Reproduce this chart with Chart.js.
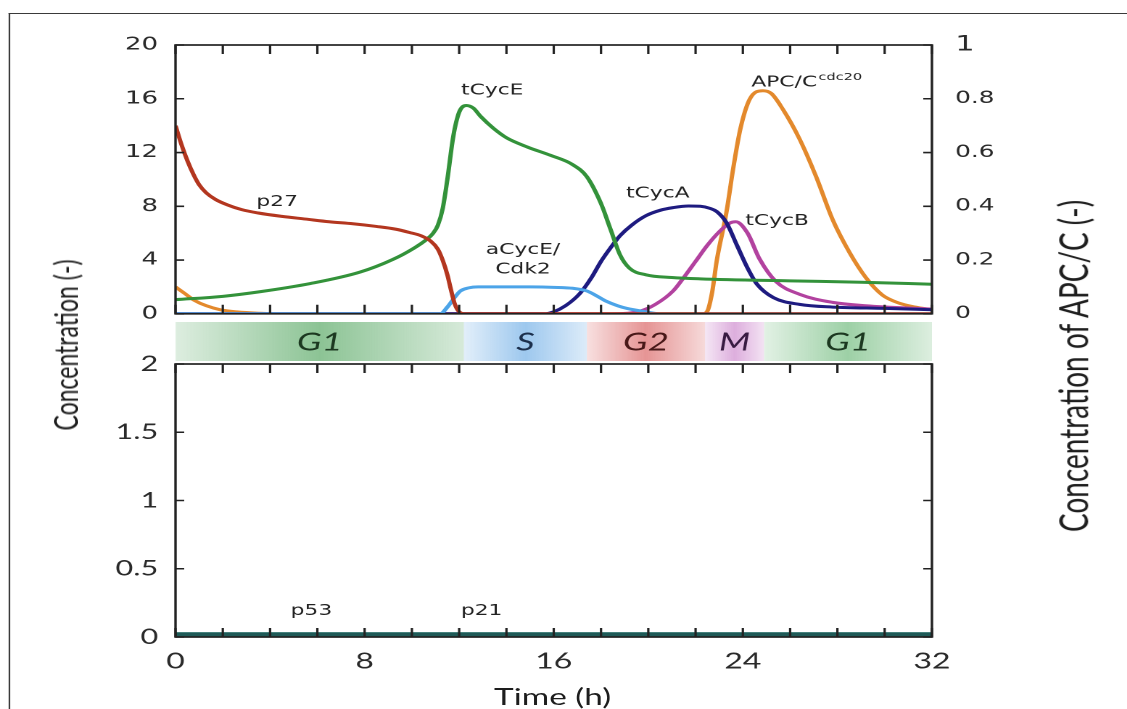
<!DOCTYPE html>
<html>
<head>
<meta charset="utf-8">
<script src="https://cdn.jsdelivr.net/npm/chart.js@4.4.1/dist/chart.umd.min.js"></script>
<style>
  html, body { margin: 0; padding: 0; background: #fff; overflow: hidden; }
  /* the source figure is stretched horizontally, so the whole stage is drawn narrow and widened */
  #stage { position: absolute; left: 0; top: 0; width: 777px; height: 709px;
           transform: scaleX(1.4505); transform-origin: 0 0; }
  #frame { position: absolute; left: 5.5px; top: 13px; width: 780px; height: 700px;
           border-left: 1.6px solid #3a3a3a; border-top: 1.6px solid #3a3a3a; }
  canvas { position: absolute; left: 0; }
  .title { position: absolute; font-family: Lato, sans-serif; color: #1d1d1d; white-space: nowrap; }
  .rot { transform: translate(-50%, -50%) rotate(-90deg); }
</style>
</head>
<body>
<div id="stage">
  <div id="frame"></div>
  <canvas id="top" width="777" height="340" style="top:0"></canvas>
  <canvas id="bottom" width="777" height="389" style="top:320px"></canvas>
  <div class="title rot" style="left:44.5px; top:345px; font-size:23px;">Concentration (-)</div>
  <div class="title rot" style="left:739px; top:366px; font-size:28px;">Concentration of APC/C (-)</div>
  <div class="title" style="left:381px; top:696px; font-size:23px; transform: translate(-50%, -50%);">Time (h)</div>
</div>
<script>
// time (h) / value pairs
const p27 = [[0,14],[0.25,12.6],[0.5,11.4],[0.75,10.4],[1,9.6],[1.3,9.0],[1.7,8.5],[2.2,8.1],[2.8,7.75],
  [3.5,7.5],[4.5,7.25],[5.5,7.05],[6.5,6.85],[7.5,6.7],[8.5,6.5],[9.3,6.3],[9.9,6.05],[10.4,5.8],
  [10.8,5.4],[11.1,4.8],[11.3,4.0],[11.5,2.9],[11.65,1.8],[11.8,0.8],[11.95,0.25],[12.2,0],[32,0]];
const tCycE = [[0,1.05],[2,1.3],[3.6,1.65],[5.7,2.25],[7.8,3.1],[9.2,4.05],[10.1,4.9],[10.6,5.5],
  [10.9,6.0],[11.1,6.6],[11.3,7.8],[11.5,10.0],[11.75,13.2],[12.0,15.0],[12.3,15.5],[12.6,15.3],
  [12.9,14.7],[13.45,13.8],[14,13.1],[14.9,12.4],[15.85,11.8],[16.8,11.1],[17.4,10.2],[18,8.2],
  [18.4,6.3],[18.8,4.4],[19.2,3.4],[19.9,2.9],[21,2.7],[22.2,2.6],[26,2.45],[29,2.35],[32,2.2]];
const aCycE = [[0,0],[11.2,0],[11.5,0.5],[11.8,1.2],[12.05,1.7],[12.4,1.93],[12.8,2.0],[15,2.0],[16,1.97],
  [16.8,1.9],[17.4,1.7],[17.8,1.35],[18.2,0.95],[18.7,0.6],[19.1,0.4],[19.9,0.15],[20.5,0],[32,0]];
const tCycA = [[0,0],[15.6,0],[16,0.15],[16.5,0.6],[17.1,1.5],[17.6,2.7],[18,3.9],[18.4,4.9],[18.8,5.8],
  [19.3,6.6],[19.9,7.3],[20.5,7.7],[21.05,7.9],[21.7,8.02],[22.2,8.0],[22.6,7.85],[22.9,7.6],[23.3,6.8],
  [23.75,5.1],[24.2,3.4],[24.6,2.2],[25.3,1.2],[26.4,0.7],[27.8,0.5],[30,0.4],[32,0.3]];
const tCycB = [[0,0],[18.5,0],[19.65,0.2],[20.3,0.7],[21.05,1.7],[21.5,2.7],[22,3.9],[22.5,5.1],[23,6.1],
  [23.45,6.75],[23.7,6.85],[24.2,6.0],[24.7,4.1],[25.4,2.4],[26.4,1.45],[27.8,0.85],[29.2,0.6],[32,0.35]];
// right axis (0..1)
const apcC = [[0,0.1],[0.4,0.075],[0.8,0.05],[1.3,0.03],[1.9,0.015],[2.6,0.007],[3.6,0.002],[4.5,0],
  [22.3,0],[22.5,0.01],[22.7,0.08],[22.9,0.2],[23.3,0.375],[23.6,0.545],[23.9,0.69],[24.3,0.8],
  [24.85,0.83],[25.2,0.82],[25.7,0.76],[26.4,0.65],[27.1,0.51],[27.8,0.35],[28.5,0.23],[29.2,0.135],
  [29.9,0.07],[30.6,0.04],[31.3,0.025],[32,0.015]];
// lower panel
const p53 = [[0,0.018],[32,0.018]];
const p21 = [[0,0.03],[32,0.03]];

// cell-cycle phases (h)
const phaseNames = ['G1', 'S', 'G2', 'M', 'G1'];
const phaseStart = [0, 12.2, 17.4, 22.4, 24.9];
const phaseEnd = [12.2, 17.4, 22.4, 24.9, 32];
const phaseColors = [[120,185,130], [140,190,235], [225,130,130], [215,160,215], [140,200,150]];
const phaseInk = ['#1c3820', '#1b2f4c', '#481818', '#381b42', '#1c3820'];

// curve labels, anchored in data units
const topLabels = [
  { text: 'p27', t: 4.3, v: 8.3 },
  { text: 'tCycE', t: 13.4, v: 16.6 },
  { text: 'aCycE/', t: 14.7, v: 4.75 },
  { text: 'Cdk2', t: 14.7, v: 3.3 },
  { text: 'tCycA', t: 20.4, v: 8.95 },
  { text: 'tCycB', t: 25.45, v: 6.9 },
  { text: 'APC/C', sup: 'cdc20', t: 25.75, v: 17.2 }
];
const bottomLabels = [
  { text: 'p53', t: 5.75, v: 0.19 },
  { text: 'p21', t: 12.95, v: 0.19 }
];

const pts = arr => arr.map(([x, y]) => ({ x, y }));
const line = (label, arr, color, axis, width) => ({
  label, data: pts(arr), borderColor: color, yAxisID: axis,
  borderWidth: width || 3, pointRadius: 0, cubicInterpolationMode: 'monotone'
});
const plain = v => String(Math.round(v * 100) / 100);

// frame box plus inward tick marks on all four sides
const frameTicks = {
  id: 'frameTicks',
  afterDraw(chart, args, opts) {
    const { ctx, chartArea: a, scales } = chart;
    const len = 9, hlen = 6;
    const xs = scales.x, yl = scales[opts.left], yr = scales[opts.right];
    ctx.save();
    ctx.strokeStyle = '#222';
    ctx.lineWidth = 1.6;
    ctx.beginPath();
    for (const tk of xs.ticks) {
      const px = xs.getPixelForValue(tk.value);
      ctx.moveTo(px, a.bottom); ctx.lineTo(px, a.bottom - len);
      ctx.moveTo(px, a.top); ctx.lineTo(px, a.top + len);
    }
    for (const tk of yl.ticks) {
      const py = yl.getPixelForValue(tk.value);
      ctx.moveTo(a.left, py); ctx.lineTo(a.left + hlen, py);
    }
    for (const tk of yr.ticks) {
      const py = yr.getPixelForValue(tk.value);
      ctx.moveTo(a.right, py); ctx.lineTo(a.right - hlen, py);
    }
    ctx.stroke();
    ctx.lineWidth = 1.7;
    ctx.strokeRect(a.left, a.top, a.right - a.left, a.bottom - a.top);
    ctx.restore();
  }
};

const curveText = {
  id: 'curveText',
  afterDatasetsDraw(chart, args, opts) {
    const { ctx, scales } = chart;
    const ys = scales[opts.axis];
    ctx.save();
    ctx.fillStyle = '#222';
    ctx.textBaseline = 'middle';
    opts.items.forEach(l => {
      const x = scales.x.getPixelForValue(l.t);
      const y = ys.getPixelForValue(l.v);
      ctx.font = '15px "DejaVu Sans"';
      ctx.textAlign = 'center';
      ctx.fillText(l.text, x, y);
      if (l.sup) {
        const w = ctx.measureText(l.text).width;
        ctx.font = '10px "DejaVu Sans"';
        ctx.textAlign = 'left';
        ctx.fillText(l.sup, x + w / 2 + 1, y - 5);
      }
    });
    ctx.restore();
  }
};

// coloured phase strip between the two panels
const phaseBand = {
  id: 'phaseBand',
  beforeDraw(chart) {
    const { ctx, chartArea: a, scales } = chart;
    const y0 = a.top - 42, y1 = a.top - 3;
    ctx.save();
    phaseNames.forEach((name, i) => {
      const x0 = scales.x.getPixelForValue(phaseStart[i]);
      const x1 = scales.x.getPixelForValue(phaseEnd[i]);
      const [r, g, b] = phaseColors[i];
      const grad = ctx.createLinearGradient(x0, 0, x1, 0);
      grad.addColorStop(0, `rgba(${r},${g},${b},0.25)`);
      grad.addColorStop(0.5, `rgba(${r},${g},${b},0.85)`);
      grad.addColorStop(1, `rgba(${r},${g},${b},0.3)`);
      ctx.fillStyle = grad;
      ctx.fillRect(x0, y0, x1 - x0, y1 - y0);
      ctx.fillStyle = phaseInk[i];
      ctx.font = 'italic 25px Lato';
      ctx.textAlign = 'center';
      ctx.textBaseline = 'middle';
      ctx.fillText(name, (x0 + x1) / 2, (y0 + y1) / 2 + 1);
    });
    ctx.restore();
  }
};

const noGrid = { display: false, drawTicks: false };

new Chart(document.getElementById('top'), {
  type: 'line',
  data: {
    datasets: [
      line('p27', p27, '#b3361f', 'y'),
      line('tCycE', tCycE, '#33923a', 'y'),
      line('aCycE/Cdk2', aCycE, '#4ca4e8', 'y'),
      line('tCycA', tCycA, '#1e1b80', 'y'),
      line('tCycB', tCycB, '#b2429f', 'y'),
      line('APC/Ccdc20', apcC, '#e3892c', 'yR')
    ]
  },
  options: {
    responsive: false,
    animation: false,
    devicePixelRatio: 2,
    layout: { padding: { top: 45, bottom: 20, left: 0, right: 0 } },
    plugins: {
      legend: { display: false },
      tooltip: { enabled: false },
      frameTicks: { left: 'y', right: 'yR' },
      curveText: { axis: 'y', items: topLabels }
    },
    scales: {
      x: {
        type: 'linear', min: 0, max: 32,
        ticks: { stepSize: 2, display: false },
        grid: noGrid, border: { display: false },
        afterFit: s => { s.height = 0; }
      },
      y: {
        position: 'left', min: 0, max: 20,
        ticks: { stepSize: 4, padding: 12, color: '#2a2a2a', font: { family: 'DejaVu Sans', size: 18 } },
        grid: noGrid, border: { display: false },
        afterFit: s => { s.width = 121; }
      },
      yR: {
        position: 'right', min: 0, max: 1,
        ticks: {
          stepSize: 0.2, padding: 16, color: '#2a2a2a', callback: plain,
          font: ctx => ({ family: 'DejaVu Sans', size: ctx.tick && ctx.tick.value === 1 ? 21 : 17 })
        },
        grid: noGrid, border: { display: false },
        afterFit: s => { s.width = 134.5; }
      }
    }
  },
  plugins: [frameTicks, curveText]
});

new Chart(document.getElementById('bottom'), {
  type: 'line',
  data: {
    datasets: [
      line('p53', p53, '#1f5a57', 'y', 4),
      line('p21', p21, '#3e8c84', 'y', 1.5)
    ]
  },
  options: {
    responsive: false,
    animation: false,
    devicePixelRatio: 2,
    layout: { padding: { top: 44, bottom: 0, left: 0, right: 134.5 } },
    plugins: {
      legend: { display: false },
      tooltip: { enabled: false },
      frameTicks: { left: 'y', right: 'y' },
      curveText: { axis: 'y', items: bottomLabels }
    },
    scales: {
      x: {
        type: 'linear', min: 0, max: 32,
        ticks: {
          stepSize: 2, autoSkip: false, maxRotation: 0, padding: 11, color: '#2a2a2a',
          font: { family: 'Lato', size: 22 },
          callback: v => (v % 8 === 0 ? v : '')
        },
        grid: noGrid, border: { display: false },
        afterFit: s => { s.height = 72; }
      },
      y: {
        position: 'left', min: 0, max: 2,
        ticks: { stepSize: 0.5, padding: 12, color: '#2a2a2a', callback: plain, font: { family: 'Lato', size: 21 } },
        grid: noGrid, border: { display: false },
        afterFit: s => { s.width = 121; }
      }
    }
  },
  plugins: [phaseBand, frameTicks, curveText]
});
</script>
</body>
</html>
